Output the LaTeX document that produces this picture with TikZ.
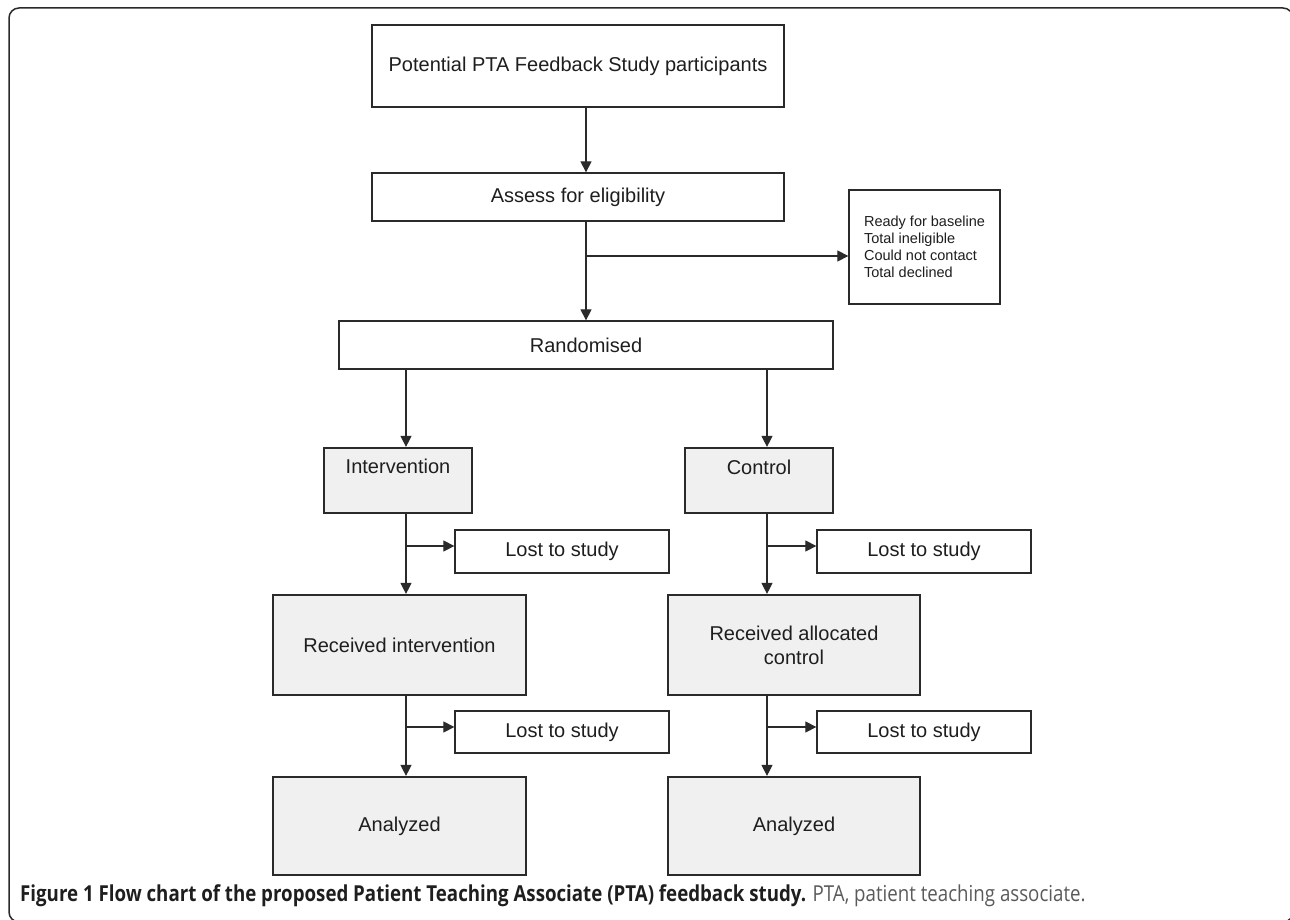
\documentclass[tikz,border=0pt]{standalone}
\usepackage{fontspec}
\setmainfont{Liberation Sans}
\newfontfamily\capfont[FakeStretch=0.85]{Open Sans}
\usetikzlibrary{arrows.meta}
\definecolor{ln}{HTML}{2A2A2A}
\definecolor{gfill}{HTML}{F0F0F0}
\definecolor{txt}{HTML}{1E1E1E}
\definecolor{capgray}{HTML}{5A5A5A}
\tikzset{
  base/.style={draw=ln, rectangle, inner sep=0pt, text=txt, align=center,
    font=\fontsize{20}{24}\selectfont},
  wbox/.style={base, fill=white, line width=1.3pt},
  gbox/.style={base, fill=gfill, line width=2.2pt},
  sbox/.style={wbox, align=left, font=\fontsize{14.5}{17}\selectfont},
  toplbl/.style={anchor=center, inner sep=0pt, text=txt, font=\fontsize{20}{24}\selectfont},
  arr/.style={draw=ln, line width=1.2pt, -{Triangle[length=11pt,width=11pt]}},
  frame/.style={draw=ln, line width=1.5pt, rounded corners=10pt},
}
\begin{document}
\begin{tikzpicture}[x=1pt,y=-1pt]
\useasboundingbox (0,0) rectangle (1290,920);
\clip (0,0) rectangle (1290,920);
\draw[frame] (9,8) rectangle (1293,922);

% column coordinates
\coordinate (cM) at (586,0);
\coordinate (cL) at (406,0);
\coordinate (cR) at (767,0);
\coordinate (b0) at (0,256);
\coordinate (b1) at (0,546);
\coordinate (b2) at (0,727);

\node[wbox, minimum width=412pt, minimum height=82pt] (pot) at (578,66)
  {Potential PTA Feedback Study participants};
\node[wbox, minimum width=412pt, minimum height=48pt] (assess) at (578,197)
  {Assess for eligibility};
\node[sbox, minimum width=151pt, minimum height=114pt] (side) at (924.5,247)
  {Ready for baseline\\Total ineligible\\Could not contact\\Total declined};
\node[wbox, minimum width=494pt, minimum height=48pt] (rand) at (586,345)
  {Randomised};

\node[gbox, minimum width=148pt, minimum height=65pt,
  label={[toplbl, yshift=-19pt]north:Intervention}] (int) at (398,480.5) {};
\node[gbox, minimum width=148pt, minimum height=65pt,
  label={[toplbl, yshift=-20pt]north:Control}] (ctl) at (759,480.5) {};

\node[wbox, minimum width=214pt, minimum height=43pt] (lost1l) at (562,551.5) {Lost to study};
\node[wbox, minimum width=214pt, minimum height=43pt] (lost1r) at (924,551.5) {Lost to study};

\node[gbox, minimum width=253pt, minimum height=100pt] (recint) at (399.5,645)
  {Received intervention};
\node[gbox, minimum width=252pt, minimum height=100pt] (recctl) at (794,645)
  {Received allocated\\control};

\node[wbox, minimum width=214pt, minimum height=42pt] (lost2l) at (562,732) {Lost to study};
\node[wbox, minimum width=214pt, minimum height=42pt] (lost2r) at (924,732) {Lost to study};

\node[gbox, minimum width=253pt, minimum height=98pt] (anl) at (399.5,826) {Analyzed};
\node[gbox, minimum width=252pt, minimum height=98pt] (anr) at (794,826) {Analyzed};

% connectors
\draw[arr] (cM |- pot.south) -- (cM |- assess.north);
\draw[arr] (cM |- assess.south) -- (cM |- rand.north);
\draw[arr] (cM |- b0) -- (side.west |- b0);
\draw[arr] (cL |- rand.south) -- (cL |- int.north);
\draw[arr] (cR |- rand.south) -- (cR |- ctl.north);
\draw[arr] (cL |- int.south) -- (cL |- recint.north);
\draw[arr] (cR |- ctl.south) -- (cR |- recctl.north);
\draw[arr] (cL |- b1) -- (lost1l.west |- b1);
\draw[arr] (cR |- b1) -- (lost1r.west |- b1);
\draw[arr] (cL |- recint.south) -- (cL |- anl.north);
\draw[arr] (cR |- recctl.south) -- (cR |- anr.north);
\draw[arr] (cL |- b2) -- (lost2l.west |- b2);
\draw[arr] (cR |- b2) -- (lost2r.west |- b2);

\node[anchor=west, inner sep=0pt, text=txt, font=\capfont\fontsize{22}{26}\selectfont] (cap) at (20,896)
  {\textbf{Figure 1 Flow chart of the proposed Patient Teaching Associate (PTA) feedback study.} \textcolor{capgray}{PTA, patient teaching associate.}};
\end{tikzpicture}
\end{document}
